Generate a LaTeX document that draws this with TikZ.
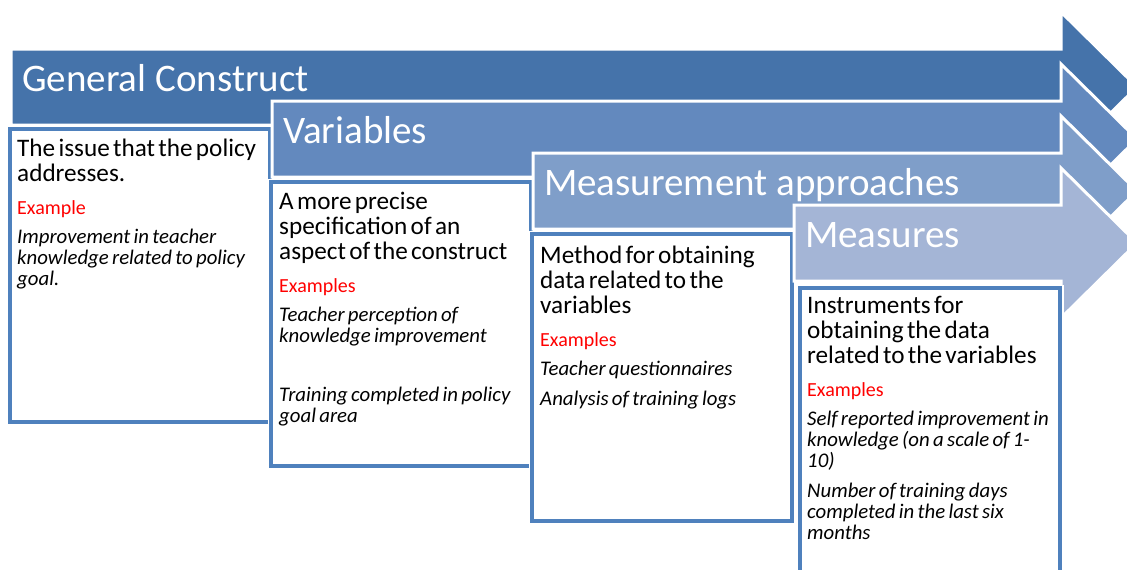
\documentclass[tikz,border=0pt]{standalone}
\usepackage{fontspec}
\setmainfont{Carlito}
\usepackage{tikz}
\usetikzlibrary{positioning}

\definecolor{bandA}{RGB}{69,115,170}
\definecolor{bandB}{RGB}{99,137,190}
\definecolor{bandC}{RGB}{127,158,201}
\definecolor{bandD}{RGB}{164,181,214}
\definecolor{boxline}{RGB}{79,129,189}
\definecolor{exred}{RGB}{255,0,0}

% text blocks inside the boxes
\newcommand{\boxlead}[1]{{\fontsize{25.2}{25}\selectfont #1\par}}
\newcommand{\exlabel}[1]{\vspace{11pt}{\fontsize{20}{22}\selectfont\textcolor{exred}{#1}\par}}
\newcommand{\exitem}[1]{\vspace{8.5pt}{\fontsize{20.8}{21}\selectfont\itshape #1\par}}

\begin{document}
\begin{tikzpicture}[x=1pt,y=-1pt,
      band/.style={
         draw=white,
         line width=3pt,
         line join=miter},
      bandtitle/.style={
         anchor=base west,
         inner sep=0pt,
         text=white,
         font=\fontsize{39}{40}\selectfont},
      infobox/.style={
         draw=boxline,
         line width=3.2pt,
         fill=white,
         anchor=north west,
         outer sep=0pt,
         inner sep=0pt,
         minimum width=260pt,
         preaction={draw=white,line width=7pt}},
      boxtext/.style={
         anchor=base west,
         inner sep=0pt,
         text width=300pt}
      ]
      \useasboundingbox (0,0) rectangle (1127,570);
      \clip (0,0) rectangle (1127,570);

    \foreach \n/\xa/\ya/\col/\heading/\xb/\yb/\bh in {% stage/band left/band top/colour/heading/box left/box top/box height
      1/11/49/bandA/General Construct/10/129/293,
      2/272/101/bandB/Variables/271/182/284,
      3/533/153/bandC/Measurement approaches/532/234/287,
      4/794/205/bandD/Measures/800/288/300}
    {
      \path[fill=\col,band] (\xa,\ya) -- (1061,\ya) -- (1061,\ya-37) -- (1137,\ya+38)
         -- (1061,\ya+113) -- (1061,\ya+76) -- (\xa,\ya+76) -- cycle;
      \node[bandtitle] (title\n) at (\xa+11,\ya+42) {\heading};
      \node[infobox,minimum height=\bh pt] (box\n) at (\xb,\yb) {};
    }

      \node[boxtext] (text1) at ([shift={(7,27)}]box1.north west) {%
         \boxlead{The issue that the policy\newline addresses.}
         \exlabel{Example}
         \exitem{Improvement in teacher\newline knowledge related to policy\newline goal.}};
      \node[boxtext] (text2) at ([shift={(8,27)}]box2.north west) {%
         \boxlead{A more precise\newline specification of an\newline aspect of the construct}
         \exlabel{Examples}
         \exitem{Teacher perception of\newline knowledge improvement}
         \exitem{\mbox{}}
         \exitem{Training completed in policy\newline goal area}};
      \node[boxtext] (text3) at ([shift={(8,29)}]box3.north west) {%
         \boxlead{Method for obtaining\newline data related to the\newline variables}
         \exlabel{Examples}
         \exitem{Teacher questionnaires}
         \exitem{Analysis of training logs}};
      \node[boxtext] (text4) at ([shift={(7,25)}]box4.north west) {%
         \boxlead{Instruments for\newline obtaining the data\newline related to the variables}
         \exlabel{Examples}
         \exitem{Self reported improvement in\newline knowledge (on a scale of 1-\newline 10)}
         \exitem{Number of training days\newline completed in the last six\newline months}};

    \end{tikzpicture}
\end{document}
